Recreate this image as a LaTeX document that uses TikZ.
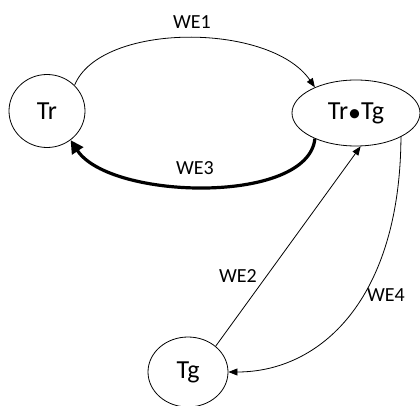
\documentclass[tikz,border=0pt]{standalone}
\usepackage{fontspec}
\setmainfont{Carlito}
\usetikzlibrary{shapes.geometric,arrows.meta}
\begin{document}
\begin{tikzpicture}[x=1pt,y=-1pt,
  state/.style={ellipse,draw,line width=0.8pt,inner sep=0pt,font=\fontsize{26}{30}\selectfont},
  trans/.style={line width=0.8pt,-{Triangle[length=9pt,width=7pt]}},
  heavy/.style={line width=3.2pt,-{Triangle[length=13pt,width=13pt]}},
  lbl/.style={font=\fontsize{20}{24}\selectfont,inner sep=0pt}]
\useasboundingbox (0,0) rectangle (420,406);
% states
\node[state,minimum width=76pt,minimum height=73pt] (tr) at (47,111) {Tr};
\node[state,minimum width=128pt,minimum height=66pt] (trtg) at (356,113) {Tr\raisebox{-2pt}{•}Tg};
\node[state,minimum width=80pt,minimum height=70pt] (tg) at (188,372) {Tg};
% transitions
\draw[trans] (tr.43) .. controls (100,22) and (270,22) .. (trtg.148);
\draw[heavy] (trtg.212) .. controls (308,205) and (110,200) .. (tr.309);
\draw[trans] (tg.43) -- (trtg.-82);
\draw[trans] (trtg.-28) .. controls (400,300) and (320,372) .. (tg.east);
% labels
\node[lbl] (we1) at (192,22) {WE1};
\node[lbl] (we3) at (195,168) {WE3};
\node[lbl] (we2) at (238,276) {WE2};
\node[lbl] (we4) at (386,295) {WE4};
\end{tikzpicture}
\end{document}
